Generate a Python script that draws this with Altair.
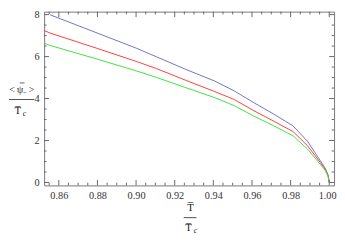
import altair as alt
import pandas as pd

# ---- data ----
t_blue = [0.8555, 0.8802, 0.9004, 0.9105, 0.9257, 0.9408, 0.9509, 0.9610, 0.9711,
          0.9812, 0.9888, 0.9953, 0.9979, 0.9994, 1.0]
v_blue = [7.99, 7.11, 6.39, 5.99, 5.39, 4.83, 4.36, 3.80, 3.27, 2.70, 1.96, 1.05, 0.68, 0.36, 0.0]

t_rg = [0.8524, 0.8555, 0.8802, 0.9004, 0.9105, 0.9257, 0.9408, 0.9509, 0.9610, 0.9711,
        0.9812, 0.9888, 0.9953, 0.9979, 0.9994, 1.0]
v_red = [7.24, 7.12, 6.38, 5.76, 5.43, 4.87, 4.33, 3.95, 3.42, 2.93, 2.43, 1.75, 0.96, 0.63, 0.33, 0.0]
v_green = [6.64, 6.53, 5.87, 5.31, 5.01, 4.52, 4.04, 3.66, 3.16, 2.71, 2.23, 1.59, 0.87, 0.58, 0.30, 0.0]

series_names = ["blue", "red", "green"]
series_colors = ["#7272c6", "#ff3c3c", "#3ee23e"]

x_major = [0.86, 0.88, 0.90, 0.92, 0.94, 0.96, 0.98, 1.00]
x_minor = [0.855, 0.865, 0.87, 0.875, 0.885, 0.89, 0.895, 0.905, 0.91, 0.915, 0.925, 0.93,
           0.935, 0.945, 0.95, 0.955, 0.965, 0.97, 0.975, 0.985, 0.99, 0.995]
y_major = [0, 2, 4, 6, 8]
y_minor = [0.5, 1, 1.5, 2.5, 3, 3.5, 4.5, 5, 5.5, 6.5, 7, 7.5]

x_domain = [0.8524, 1.0025]
y_domain = [-0.14, 8.14]

# ---- tables ----
rows = []
for t, v in zip(t_blue, v_blue):
    rows.append({"T": t, "v": v, "s": "blue"})
for t, v in zip(t_rg, v_red):
    rows.append({"T": t, "v": v, "s": "red"})
for t, v in zip(t_rg, v_green):
    rows.append({"T": t, "v": v, "s": "green"})
df = pd.DataFrame(rows)

FONT = "Liberation Serif"
TICK = "#666666"

xs = alt.Scale(domain=x_domain, nice=False, zero=False)
ys = alt.Scale(domain=y_domain, nice=False, zero=False)
x_axis = alt.Axis(values=x_major, format=".2f", ticks=False, domain=False, grid=False,
                  title=None, labelFont=FONT, labelFontSize=10.5, labelColor="#333",
                  labelPadding=5, labelFlush=10, labelFlushOffset=7)
y_axis = alt.Axis(values=y_major, format="d", ticks=False, domain=False, grid=False,
                  title=None, labelFont=FONT, labelFontSize=10.5, labelColor="#333",
                  labelPadding=5, labelFlush=False)

lines = alt.Chart(df).mark_line(strokeWidth=1, clip=True).encode(
    x=alt.X("T:Q", scale=xs, axis=x_axis),
    y=alt.Y("v:Q", scale=ys, axis=y_axis),
    color=alt.Color("s:N", scale=alt.Scale(domain=series_names, range=series_colors), legend=None),
    order="T:Q",
)

dx_maj = pd.DataFrame({"p": x_major})
dx_min = pd.DataFrame({"p": x_minor})
dy_maj = pd.DataFrame({"p": y_major})
dy_min = pd.DataFrame({"p": y_minor})


def xticks(d, length_units):
    bottom = alt.Chart(d).mark_rule(color=TICK, strokeWidth=1).encode(
        x=alt.X("p:Q", scale=xs, axis=x_axis),
        y=alt.datum(y_domain[0], scale=ys, axis=y_axis),
        y2=alt.datum(y_domain[0] + length_units),
    )
    top = alt.Chart(d).mark_rule(color=TICK, strokeWidth=1).encode(
        x=alt.X("p:Q", scale=xs, axis=x_axis),
        y=alt.datum(y_domain[1], scale=ys, axis=y_axis),
        y2=alt.datum(y_domain[1] - length_units),
    )
    return [bottom, top]


def yticks(d, length_units):
    left = alt.Chart(d).mark_rule(color=TICK, strokeWidth=1).encode(
        y=alt.Y("p:Q", scale=ys, axis=y_axis),
        x=alt.datum(x_domain[0], scale=xs, axis=x_axis),
        x2=alt.datum(x_domain[0] + length_units),
    )
    right = alt.Chart(d).mark_rule(color=TICK, strokeWidth=1).encode(
        y=alt.Y("p:Q", scale=ys, axis=y_axis),
        x=alt.datum(x_domain[1], scale=xs, axis=x_axis),
        x2=alt.datum(x_domain[1] - length_units),
    )
    return [left, right]


one = pd.DataFrame({"a": [0]})


def label(text, x, y, size=11, italic=False):
    return alt.Chart(one).mark_text(
        text=text, font=FONT, fontSize=size, fill="#222222",
        fontStyle="italic" if italic else "normal", align="center", baseline="middle"
    ).encode(x=alt.value(x), y=alt.value(y))


def bar(x1, x2, y, w=0.8):
    return alt.Chart(one).mark_rule(color="#222222", strokeWidth=w).encode(
        x=alt.value(x1), x2=alt.value(x2), y=alt.value(y))


titles = [
    # y-axis title (fraction)
    label("< ψ\u208b >", -23, 80, 10),
    bar(-25, -20, 73, 0.7),
    bar(-36, -10, 90),
    label("T\u0305", -27, 102, 11),
    label("c", -20, 105, 8, italic=True),
    # x-axis title (fraction)
    label("T\u0305", 150, 201, 11),
    bar(143, 156, 211),
    label("T\u0305", 148, 222, 11),
    label("c", 155, 225, 8, italic=True),
]

layers = [lines] + xticks(dx_maj, 0.26) + xticks(dx_min, 0.13) + \
    yticks(dy_maj, 0.0025) + yticks(dy_min, 0.00125) + titles

chart = alt.layer(*layers).properties(
    width=297, height=178,
    autosize=alt.AutoSizeParams(type="none"),
    padding={"left": 37, "top": 1, "right": 3, "bottom": 47},
).configure_view(stroke="#777777", strokeWidth=1)

chart.save("out.html", embed_options={"renderer": "svg", "actions": False})
